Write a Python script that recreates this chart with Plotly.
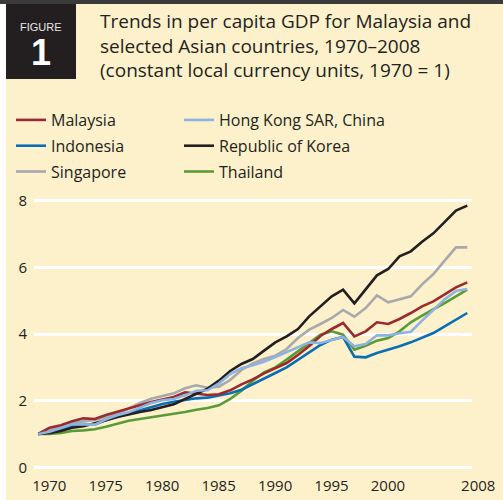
import plotly.graph_objects as go

# ---------------- data ----------------
years = [1970, 1971, 1972, 1973, 1974, 1975, 1976, 1977, 1978, 1979,
         1980, 1981, 1982, 1983, 1984, 1985, 1986, 1987, 1988, 1989,
         1990, 1991, 1992, 1993, 1994, 1995, 1996, 1997, 1998, 1999,
         2000, 2001, 2002, 2003, 2004, 2005, 2006, 2007, 2008]

malaysia = [1.00, 1.19, 1.26, 1.38, 1.47, 1.45, 1.57, 1.66, 1.76, 1.86,
            1.96, 2.04, 2.11, 2.25, 2.20, 2.17, 2.19, 2.31, 2.49, 2.64,
            2.82, 2.97, 3.13, 3.37, 3.64, 3.94, 4.15, 4.33, 3.93, 4.08,
            4.35, 4.30, 4.45, 4.63, 4.83, 4.98, 5.18, 5.40, 5.55]

hong_kong = [1.00, 1.07, 1.18, 1.29, 1.29, 1.28, 1.44, 1.56, 1.65, 1.79,
             1.93, 2.01, 2.05, 2.16, 2.30, 2.31, 2.52, 2.80, 2.97, 3.06,
             3.17, 3.31, 3.45, 3.61, 3.75, 3.73, 3.81, 3.91, 3.63, 3.70,
             3.96, 3.96, 4.02, 4.07, 4.40, 4.73, 5.04, 5.29, 5.35]

indonesia = [1.00, 1.05, 1.14, 1.25, 1.30, 1.28, 1.42, 1.52, 1.60, 1.70,
             1.82, 1.90, 1.97, 2.03, 2.07, 2.09, 2.15, 2.22, 2.33, 2.49,
             2.66, 2.83, 3.00, 3.22, 3.45, 3.67, 3.83, 3.91, 3.32, 3.30,
             3.43, 3.52, 3.63, 3.75, 3.88, 4.03, 4.23, 4.43, 4.63]

korea = [1.00, 1.03, 1.09, 1.19, 1.23, 1.31, 1.41, 1.51, 1.59, 1.66,
         1.72, 1.80, 1.89, 2.05, 2.20, 2.36, 2.60, 2.89, 3.10, 3.25,
         3.50, 3.75, 3.93, 4.15, 4.53, 4.83, 5.13, 5.33, 4.92, 5.34,
         5.76, 5.95, 6.33, 6.48, 6.77, 7.02, 7.35, 7.70, 7.85]

singapore = [1.00, 1.10, 1.22, 1.32, 1.38, 1.42, 1.50, 1.61, 1.76, 1.93,
             2.06, 2.15, 2.22, 2.37, 2.46, 2.39, 2.42, 2.62, 2.92, 3.12,
             3.25, 3.35, 3.55, 3.88, 4.13, 4.30, 4.48, 4.72, 4.52, 4.78,
             5.16, 4.95, 5.04, 5.13, 5.49, 5.80, 6.20, 6.60, 6.60]

thailand = [1.00, 1.00, 1.03, 1.09, 1.11, 1.14, 1.22, 1.32, 1.40, 1.45,
            1.50, 1.55, 1.60, 1.66, 1.73, 1.78, 1.86, 2.05, 2.30, 2.60,
            2.85, 3.00, 3.23, 3.48, 3.71, 3.98, 4.08, 3.98, 3.53, 3.65,
            3.80, 3.88, 4.08, 4.35, 4.55, 4.73, 4.93, 5.13, 5.33]

x_tick_years = [1970, 1975, 1980, 1985, 1990, 1995, 2000, 2008]
y_ticks = [0, 2, 4, 6, 8]

title_lines = ["Trends in per capita GDP for Malaysia and",
               "selected Asian countries, 1970\u20132008",
               "(constant local currency units, 1970 = 1)"]

# ---------------- style ----------------
CREAM = "#FDF1CC"
TEXT = "#231F20"
FONT = "Open Sans"

series = [
    # name, values, color, legend, rank
    ("Singapore", singapore, "#A7A9AC", "legend", 3),
    ("Thailand", thailand, "#5B9B37", "legend2", 3),
    ("Indonesia", indonesia, "#0A6EB4", "legend", 2),
    ("Malaysia", malaysia, "#9B2A2E", "legend", 1),
    ("Republic of Korea", korea, "#231F20", "legend2", 2),
    ("Hong Kong SAR, China", hong_kong, "#8DB3E2", "legend2", 1),
]

W, H = 503, 500
L, R, T, B = 34, 31, 194, 31
PW, PH = W - L - R, H - T - B


def px_x(px):
    return (px - L) / PW


def px_y(py):
    return 1 - (py - T) / PH


fig = go.Figure()
for name, vals, color, leg, rank in series:
    fig.add_trace(go.Scatter(
        x=years, y=vals, mode="lines", name=name,
        line=dict(color=color, width=2.6),
        legend=leg, legendrank=rank, legendgroup=name,
    ))

shapes = [
    dict(type="rect", xref="paper", yref="paper", x0=px_x(0), x1=px_x(6),
         y0=px_y(H), y1=px_y(0), fillcolor="white", line_width=0, layer="below"),
    dict(type="rect", xref="paper", yref="paper", x0=px_x(0), x1=px_x(W),
         y0=px_y(4), y1=px_y(0), fillcolor="#3A3A3A", line_width=0, layer="below"),
    dict(type="rect", xref="paper", yref="paper", x0=px_x(6), x1=px_x(76),
         y0=px_y(79), y1=px_y(4), fillcolor=TEXT, line_width=0, layer="below"),
]

annotations = [
    dict(text="FIGURE", xref="paper", yref="paper", x=px_x(41), y=px_y(26.5),
         xanchor="center", yanchor="middle", showarrow=False,
         font=dict(family="Liberation Sans", size=11, color="#E6E6E6")),
    dict(text="<b>1</b>", xref="paper", yref="paper", x=px_x(41), y=px_y(52),
         xanchor="center", yanchor="middle", showarrow=False,
         font=dict(family="Liberation Sans", size=36, color="white")),
    dict(text="<br>".join(title_lines), xref="paper", yref="paper",
         x=px_x(98), y=px_y(6), xanchor="left", yanchor="top", align="left",
         showarrow=False, font=dict(family=FONT, size=19, color=TEXT)),
]

legend_common = dict(orientation="v", xanchor="left", yanchor="top",
                     font=dict(family=FONT, size=16, color=TEXT),
                     bgcolor="rgba(0,0,0,0)", traceorder="grouped",
                     tracegroupgap=2)

fig.update_layout(
    width=W, height=H,
    margin=dict(l=L, r=R, t=T, b=B, pad=0, autoexpand=False),
    paper_bgcolor=CREAM, plot_bgcolor=CREAM,
    font=dict(family=FONT, size=15, color=TEXT),
    shapes=shapes, annotations=annotations,
    showlegend=True,
    legend=dict(x=px_x(11), y=px_y(103), **legend_common),
    legend2=dict(x=px_x(179), y=px_y(103), **legend_common),
    xaxis=dict(range=[1969.62, 2008.42], tickmode="array",
               tickvals=x_tick_years, ticktext=[str(v) for v in x_tick_years],
               showgrid=False, zeroline=False, showline=False, ticks="",
               ticklabelshift=11, ticklabelstandoff=6,
               tickfont=dict(family=FONT, size=15, color=TEXT), fixedrange=True),
    yaxis=dict(range=[-0.05, 8.2], tickmode="array", tickvals=y_ticks,
               showgrid=True, gridcolor="white", gridwidth=3,
               zeroline=False, showline=False, ticks="",
               ticklabelstandoff=6,
               tickfont=dict(family=FONT, size=15, color=TEXT), fixedrange=True),
)

fig.write_html(
    "out.html",
    config={"displayModeBar": False},
    post_script="document.body.style.margin='0';document.body.style.overflow='hidden';",
)
